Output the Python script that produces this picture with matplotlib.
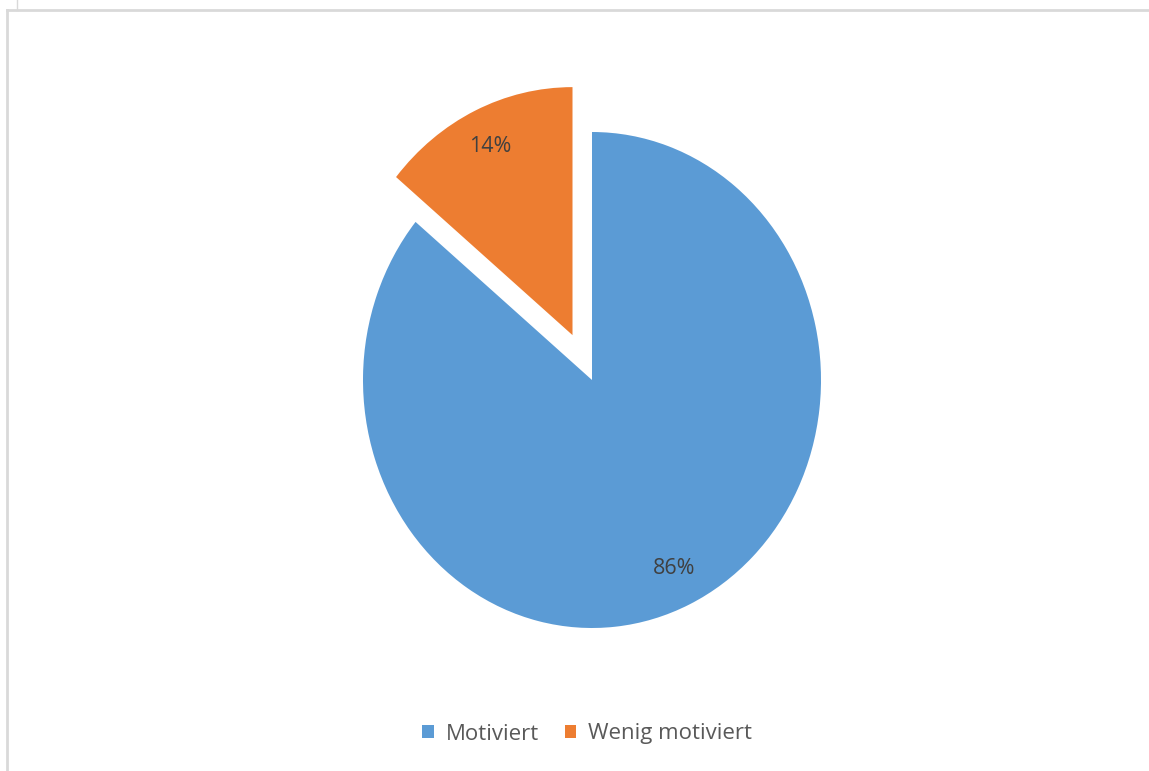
import matplotlib.pyplot as plt
from matplotlib.lines import Line2D

labels = ["Motiviert", "Wenig motiviert"]
values = [86, 14]
colors = ["#5B9BD5", "#ED7D31"]
explode = [0, 0.2]

W, H = 1149, 771
fig = plt.figure(figsize=(W / 100, H / 100), dpi=100)
ax = fig.add_axes([0, 0, 1, 1])

wedges, texts, autotexts = ax.pie(values, colors=colors, explode=explode,
                                  startangle=90, counterclock=False,
                                  autopct='%1.0f%%', pctdistance=0.84,
                                  textprops={'fontsize': 15.5, 'color': '#404040',
                                             'family': 'Open Sans'})

# Pie in the reference is a bit taller than wide
cx, cy, rx, ry = 592, 380, 229, 248
ax.set_aspect('auto')
ax.set_xlim(-cx / rx, (W - cx) / rx)
ax.set_ylim((cy - H) / ry, cy / ry)
ax.axis('off')

leg = fig.legend(wedges, labels, loc='center', bbox_to_anchor=(0.511, 1 - 734 / H),
                 ncol=2, frameon=False, handlelength=0.5, handleheight=0.5,
                 handletextpad=0.55, columnspacing=1.15,
                 prop={'family': 'Open Sans', 'size': 16})
for t in leg.get_texts():
    t.set_color('#595959')

# Rahmen
grey = '#d9d9d9'
fig.add_artist(Line2D([7 / W, 1], [1 - 10 / H, 1 - 10 / H], color=grey, lw=2))
fig.add_artist(Line2D([7 / W, 7 / W], [0, 1 - 10 / H], color=grey, lw=2))
fig.add_artist(Line2D([17 / W, 17 / W], [1 - 10 / H, 1], color=grey, lw=1))

fig.savefig('out.png', dpi=100)
